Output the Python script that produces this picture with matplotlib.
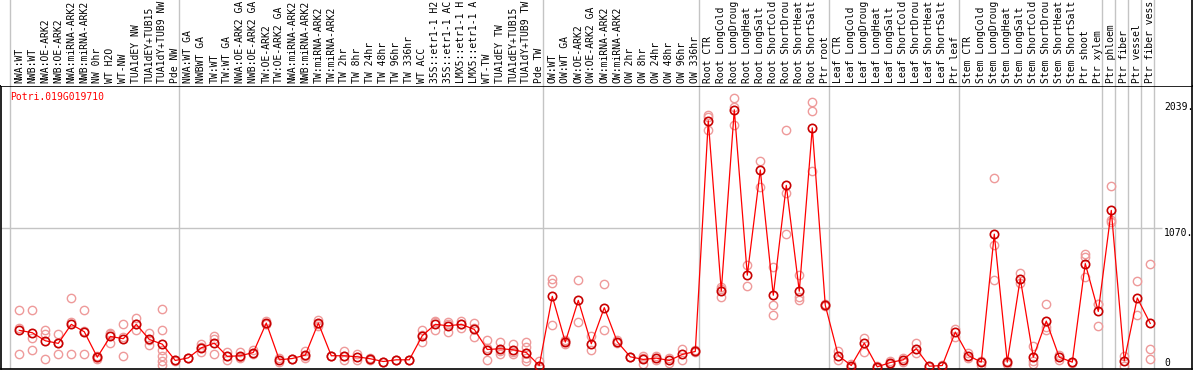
import matplotlib
matplotlib.use("Agg")
import matplotlib.pyplot as plt

# ---------------- data ----------------
gene = "Potri.019G019710"

labels = [
    "NWA:WT", "NWB:WT", "NWA:OE-ARK2", "NWB:OE-ARK2", "NWA:miRNA-ARK2", "NWB:miRNA-ARK2",
    "NW 0hr", "WT H2O", "WT-NW", "TUA1dEY NW", "TUA1dEY+TUB15", "TUA1dY+TUB9 NW", "Pde NW",
    "NWA:WT GA", "NWBWT GA", "TW:WT", "TW:WT GA", "NWA:OE-ARK2 GA", "NWB:OE-ARK2 GA",
    "TW:OE-ARK2", "TW:OE-ARK2 GA", "NWA:miRNA-ARK2", "NWB:miRNA-ARK2", "TW:miRNA-ARK2",
    "TW:miRNA-ARK2", "TW 2hr", "TW 8hr", "TW 24hr", "TW 48hr", "TW 96hr", "TW 336hr", "WT ACC",
    "35S::etr1-1 H2", "35S::etr1-1 AC", "LMX5::etr1-1 H", "LMX5::etr1-1 A", "WT-TW",
    "TUA1dEY TW", "TUA1dEY+TUB15", "TUA1dY+TUB9 TW", "Pde TW",
    "OW:WT", "OW:WT GA", "OW:OE-ARK2", "OW:OE-ARK2 GA", "OW:miRNA-ARK2", "OW:miRNA-ARK2",
    "OW 2hr", "OW 8hr", "OW 24hr", "OW 48hr", "OW 96hr", "OW 336hr",
    "Root CTR", "Root LongCold", "Root LongDroug", "Root LongHeat", "Root LongSalt",
    "Root ShortCold", "Root ShortDrou", "Root ShortHeat", "Root ShortSalt", "Ptr root",
    "Leaf CTR", "Leaf LongCold", "Leaf LongDroug", "Leaf LongHeat", "Leaf LongSalt",
    "Leaf ShortCold", "Leaf ShortDrou", "Leaf ShortHeat", "Leaf ShortSalt", "Ptr leaf",
    "Stem CTR", "Stem LongCold", "Stem LongDroug", "Stem LongHeat", "Stem LongSalt",
    "Stem ShortCold", "Stem ShortDrou", "Stem ShortHeat", "Stem ShortSalt", "Ptr shoot", "Ptr xylem",
    "Ptr phloem", "Ptr fiber", "Ptr vessel", "Ptr fiber vess",
]

group_sizes = [13, 28, 12, 10, 10, 11, 1, 1, 1, 1]

means = [
    285, 267, 205, 185, 331, 274, 79, 238, 221, 331, 215, 179, 54,
    74, 151, 187, 85, 90, 115, 341, 59, 69, 95, 341, 90, 90, 82, 67, 46, 59, 59,
    244, 331, 320, 331, 292, 138, 144, 136, 115, 15,
    546, 195, 515, 182, 459, 197, 82, 62, 72, 54, 100, 123,
    1892, 587, 1977, 708, 1515, 554, 1397, 585, 1838, 477,
    92, 15, 187, 5, 38, 59, 144, 10, 15, 272,
    92, 41, 1023, 41, 682, 79, 356, 79, 41, 797, 430,
    1205, 51, 533, 338,
]

replicates = [
    [444, 306, 105], [444, 226, 131], [290, 259, 67], [259, 191, 105], [536, 349, 100],
    [441, 281, 100], [90, 80, 68], [264, 190, 260], [336, 90, 237], [379, 285, 331],
    [264, 169, 213], [451, 285, 131, 92, 49, 23], [58, 49],
    [74, 70], [177, 118, 158], [238, 215, 100], [118, 54, 85], [118, 82, 70], [131, 105],
    [356, 336, 331], [72, 46], [69, 66], [126, 74, 85], [367, 336, 320], [90, 92],
    [126, 59, 85], [105, 59], [74, 59], [46, 44], [59, 57], [59, 60], [285, 197, 250],
    [356, 285, 352], [336, 274, 350], [356, 300, 337], [344, 233, 300], [208, 54, 152],
    [197, 105, 130], [182, 105, 121], [197, 160, 115, 74, 49], [49, 15, 5],
    [675, 649, 323], [208, 177, 200], [669, 349], [238, 131], [638, 285], [208, 187],
    [82, 80], [85, 28, 72], [85, 59], [74, 38], [144, 54], [131, 118],
    [1938, 1920, 1818], [600, 541, 620], [2067, 2000, 1862], [785, 623], [1585, 1382],
    [772, 477, 405], [1818, 1341, 1023], [708, 540, 515], [2036, 1964, 1508], [490, 470],
    [126, 54], [30, 5], [228, 118], [10, 0], [50, 25], [75, 45], [187, 110], [15, 5],
    [20, 10], [297, 233],
    [110, 75], [50, 20], [1451, 938, 669], [50, 30], [721, 650], [162, 28, 50],
    [485, 310, 285], [95, 60], [45, 38], [869, 844, 695], [490, 485, 315],
    [1392, 1131, 1113], [87, 15], [662, 400], [797, 144, 67],
]

y_ticks = [2039, 1070, 0]
y_tick_labels = ["2039.", "1070.", "0"]

# ---------------- figure ----------------
W, H = 1194, 370
fig = plt.figure(figsize=(W / 100, H / 100), dpi=100)

mono = "DejaVu Sans Mono"
fs = 7.0
grey = "#c4c4c4"

ax = fig.add_axes([1 / W, 1 - 369 / H, 1191 / W, (369 - 86) / H])
hx = fig.add_axes([1 / W, 1 - 86 / H, 1191 / W, 86 / H])

n = len(labels)
xs = list(range(n))
xlim = (-1.408, 90.21)
ax.set_xlim(*xlim)
hx.set_xlim(*xlim)
ax.set_ylim(-11.5, 2159)
hx.set_ylim(0, 1)

for a in (ax, hx):
    a.set_xticks([])
    a.set_yticks([])
    for s in a.spines.values():
        s.set_color("black")
        s.set_linewidth(1.2)

hx.spines["left"].set_visible(False)
hx.spines["top"].set_visible(False)
hx.spines["bottom"].set_visible(False)

# group separators
start = 0
bounds = [0]
for g in group_sizes:
    start += g
    bounds.append(start)
for b in bounds:
    ax.axvline(b - 0.715, color=grey, lw=1, zorder=0)
    hx.axvline(b - 0.715, color=grey, lw=1, zorder=0)

# horizontal grid line
ax.hlines(y_ticks[1], xlim[0], n - 0.1, color=grey, lw=1, zorder=0)

# replicates
rx, ry = [], []
for i, reps in enumerate(replicates):
    for v in reps:
        rx.append(i)
        ry.append(v)
ax.plot(rx, ry, linestyle="none", marker="o", ms=6.0, mfc="none",
        mec="#ee9a9a", mew=1.0, zorder=2)

# mean line and markers
ax.plot(xs, means, color="#ff0000", lw=0.9, zorder=3)
ax.plot(xs, means, linestyle="none", marker="o", ms=6.0, mfc="none",
        mec="#c80000", mew=1.2, zorder=4)

# y labels on the right, inside the plot
tx = n + 0.05
ax.text(tx, y_ticks[0], y_tick_labels[0], family=mono, fontsize=fs, va="top", ha="left")
ax.text(tx, y_ticks[1], y_tick_labels[1], family=mono, fontsize=fs, va="top", ha="left")
ax.text(tx, y_ticks[2], y_tick_labels[2], family=mono, fontsize=fs, va="bottom", ha="left")

# gene name
ax.text(0.0076, 0.961, gene, transform=ax.transAxes, color="red", family=mono,
        fontsize=fs, va="center", ha="left")

# column labels (rotated)
for i, lab in enumerate(labels):
    hx.text(i, 0.03, lab, rotation=90, family=mono, fontsize=fs,
            ha="center", va="bottom", clip_on=False)

fig.savefig("out.png", dpi=100)
